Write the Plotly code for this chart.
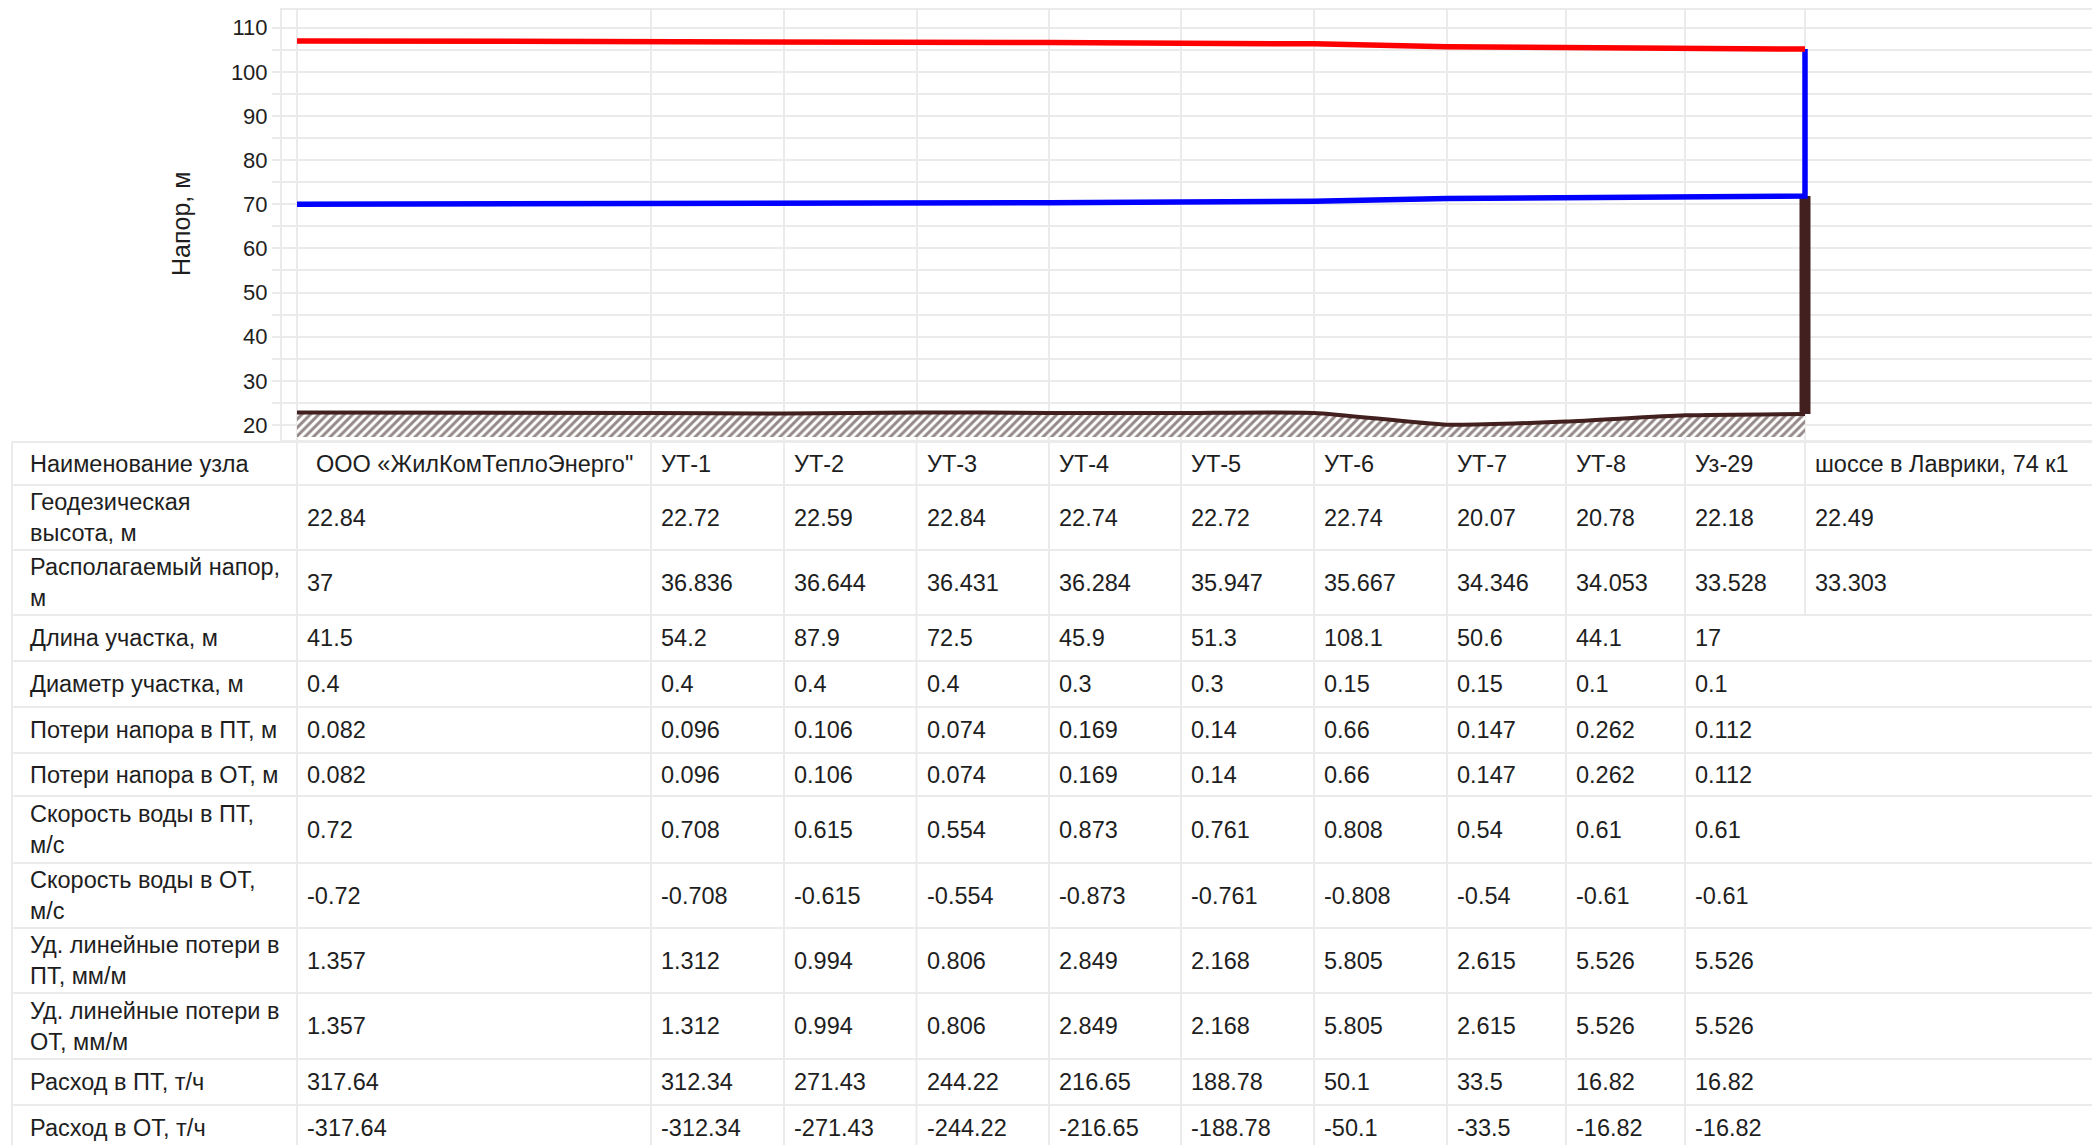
import plotly.graph_objects as go

W, H = 2092, 1145

# ---------------- data ----------------
node_names = ["ООО «ЖилКомТеплоЭнерго\"", "УТ-1", "УТ-2", "УТ-3", "УТ-4", "УТ-5",
              "УТ-6", "УТ-7", "УТ-8", "Уз-29", "шоссе в Лаврики, 74 к1"]
geodesic_height = [22.84, 22.72, 22.59, 22.84, 22.74, 22.72, 22.74, 20.07, 20.78, 22.18, 22.49]
available_head = [37, 36.836, 36.644, 36.431, 36.284, 35.947, 35.667, 34.346, 34.053, 33.528, 33.303]
segment_length = [41.5, 54.2, 87.9, 72.5, 45.9, 51.3, 108.1, 50.6, 44.1, 17]
segment_diameter = [0.4, 0.4, 0.4, 0.4, 0.3, 0.3, 0.15, 0.15, 0.1, 0.1]
loss_supply = [0.082, 0.096, 0.106, 0.074, 0.169, 0.14, 0.66, 0.147, 0.262, 0.112]
loss_return = [0.082, 0.096, 0.106, 0.074, 0.169, 0.14, 0.66, 0.147, 0.262, 0.112]
speed_supply = [0.72, 0.708, 0.615, 0.554, 0.873, 0.761, 0.808, 0.54, 0.61, 0.61]
speed_return = [-0.72, -0.708, -0.615, -0.554, -0.873, -0.761, -0.808, -0.54, -0.61, -0.61]
spec_loss_supply = [1.357, 1.312, 0.994, 0.806, 2.849, 2.168, 5.805, 2.615, 5.526, 5.526]
spec_loss_return = [1.357, 1.312, 0.994, 0.806, 2.849, 2.168, 5.805, 2.615, 5.526, 5.526]
flow_supply = [317.64, 312.34, 271.43, 244.22, 216.65, 188.78, 50.1, 33.5, 16.82, 16.82]
flow_return = [-317.64, -312.34, -271.43, -244.22, -216.65, -188.78, -50.1, -33.5, -16.82, -16.82]

# piezometric heads (supply = red, return = blue)
supply_head = [107.0, 106.918, 106.822, 106.716, 106.642, 106.473, 106.333, 105.673, 105.526, 105.264, 105.152]
return_head = [70.0, 70.082, 70.178, 70.284, 70.358, 70.527, 70.667, 71.327, 71.474, 71.736, 71.848]

y_tick_values = [20, 30, 40, 50, 60, 70, 80, 90, 100, 110]
y_title = "Напор, м"

row_labels = [
    "Наименование узла",
    "Геодезическая<br>высота, м",
    "Располагаемый напор,<br>м",
    "Длина участка, м",
    "Диаметр участка, м",
    "Потери напора в ПТ, м",
    "Потери напора в ОТ, м",
    "Скорость воды в ПТ,<br>м/с",
    "Скорость воды в ОТ,<br>м/с",
    "Уд. линейные потери в<br>ПТ, мм/м",
    "Уд. линейные потери в<br>ОТ, мм/м",
    "Расход в ПТ, т/ч",
    "Расход в ОТ, т/ч",
]

# ---------------- layout / style ----------------
col_edges = [12, 297, 651, 784, 916.5, 1049, 1181, 1314, 1447, 1566, 1685, 1805, 2092]
row_edges = [442, 485, 550, 615, 661, 707, 753, 796, 863, 928, 993, 1059, 1105, 1151]
plot_left, plot_top, plot_bottom = 282, 10, 440
y_range = [16.6, 114.0]
hatch_base = 17.3

FONT = "Liberation Sans, Arial, sans-serif"
FS = 23.5
TXT = "#1e1e1e"
GRID = "#ebebeb"
GROUND = "#42201f"

node_x = col_edges[1:12]


def fmt(v):
    return f"{v:g}"


def px_x(p):
    return p / W


def px_y(p):
    return 1 - p / H


fig = go.Figure()

# hatch under ground line
fig.add_trace(go.Scatter(x=node_x, y=[hatch_base] * len(node_x), mode="lines",
                         line=dict(width=0, color="rgba(0,0,0,0)"), hoverinfo="skip",
                         showlegend=False))
fig.add_trace(go.Scatter(x=node_x, y=geodesic_height, mode="lines",
                         line=dict(color=GROUND, width=4, shape="spline", smoothing=0.6),
                         fill="tonexty", fillcolor="rgba(0,0,0,0)",
                         fillpattern=dict(shape="/", fgcolor="#2e1414", bgcolor="white",
                                          size=6, solidity=0.5),
                         showlegend=False, name="Геодезическая высота"))
# building / consumer column
fig.add_trace(go.Scatter(x=[node_x[-1], node_x[-1]], y=[geodesic_height[-1], return_head[-1]],
                         mode="lines", line=dict(color=GROUND, width=11), showlegend=False))
# return line (blue) including riser to the supply head at consumer
fig.add_trace(go.Scatter(x=node_x + [node_x[-1]], y=return_head + [supply_head[-1]],
                         mode="lines", line=dict(color="#0000ff", width=5.5), showlegend=False,
                         name="ОТ"))
# supply line (red)
fig.add_trace(go.Scatter(x=node_x, y=supply_head, mode="lines",
                         line=dict(color="#ff0000", width=5.5), showlegend=False, name="ПТ"))

fig.update_layout(
    width=W, height=H, autosize=False,
    margin=dict(l=0, r=0, t=0, b=0, pad=0),
    paper_bgcolor="white", plot_bgcolor="white",
    font=dict(family=FONT, size=FS, color=TXT),
    xaxis=dict(domain=[px_x(plot_left), 1], range=[plot_left, W],
               tickmode="array", tickvals=node_x, showticklabels=False,
               showgrid=True, gridcolor=GRID, gridwidth=2, zeroline=False,
               showline=True, mirror=True, linecolor=GRID, linewidth=2, ticks=""),
    yaxis=dict(domain=[px_y(plot_bottom), px_y(plot_top)], range=y_range,
               tickmode="array", tickvals=y_tick_values,
               ticktext=[str(v) for v in y_tick_values],
               tickfont=dict(size=22, color=TXT, family=FONT),
               showgrid=True, gridcolor=GRID, gridwidth=2, zeroline=False,
               showline=True, linecolor=GRID, linewidth=2,
               ticks="outside", ticklen=8, tickcolor=GRID, tickwidth=2,
               minor=dict(dtick=5, tick0=0, showgrid=True, gridcolor=GRID, gridwidth=2,
                          ticks="outside", ticklen=8, tickcolor=GRID, tickwidth=2)),
)

annotations = []
shapes = []

# y-axis title
annotations.append(dict(text=y_title, x=px_x(181), y=px_y(224), xref="paper", yref="paper",
                        showarrow=False, textangle=-90, xanchor="center", yanchor="middle",
                        font=dict(size=25, color=TXT, family=FONT)))

# table contents
table_rows = [
    node_names,
    [fmt(v) for v in geodesic_height],
    [fmt(v) for v in available_head],
    [fmt(v) for v in segment_length],
    [fmt(v) for v in segment_diameter],
    [fmt(v) for v in loss_supply],
    [fmt(v) for v in loss_return],
    [fmt(v) for v in speed_supply],
    [fmt(v) for v in speed_return],
    [fmt(v) for v in spec_loss_supply],
    [fmt(v) for v in spec_loss_return],
    [fmt(v) for v in flow_supply],
    [fmt(v) for v in flow_return],
]

for r, label in enumerate(row_labels):
    yc = (row_edges[r] + row_edges[r + 1]) / 2
    annotations.append(dict(text=label, x=px_x(col_edges[0] + 16), y=px_y(yc),
                            xref="paper", yref="paper", showarrow=False,
                            xanchor="left", yanchor="middle", align="left",
                            font=dict(size=FS, color=TXT, family=FONT)))
    for c, val in enumerate(table_rows[r]):
        pad = 17 if (r == 0 and c == 0) else 8
        annotations.append(dict(text=val, x=px_x(col_edges[c + 1] + pad), y=px_y(yc),
                                xref="paper", yref="paper", showarrow=False,
                                xanchor="left", yanchor="middle", align="left",
                                font=dict(size=FS, color=TXT, family=FONT)))

# table borders
for yb in row_edges:
    shapes.append(dict(type="line", xref="paper", yref="paper",
                       x0=px_x(col_edges[0]), x1=1, y0=px_y(yb), y1=px_y(yb),
                       line=dict(color=GRID, width=2), layer="below"))
for i, xb in enumerate(col_edges[:-1]):
    bottom = row_edges[3] if i == len(col_edges) - 2 else row_edges[-1]
    shapes.append(dict(type="line", xref="paper", yref="paper",
                       x0=px_x(xb), x1=px_x(xb), y0=px_y(row_edges[0]), y1=px_y(bottom),
                       line=dict(color=GRID, width=2), layer="below"))

fig.update_layout(annotations=annotations, shapes=shapes)

fig.write_html("out.html", config={"displayModeBar": False},
               post_script="document.body.style.margin='0px';document.body.style.overflow='hidden';")
